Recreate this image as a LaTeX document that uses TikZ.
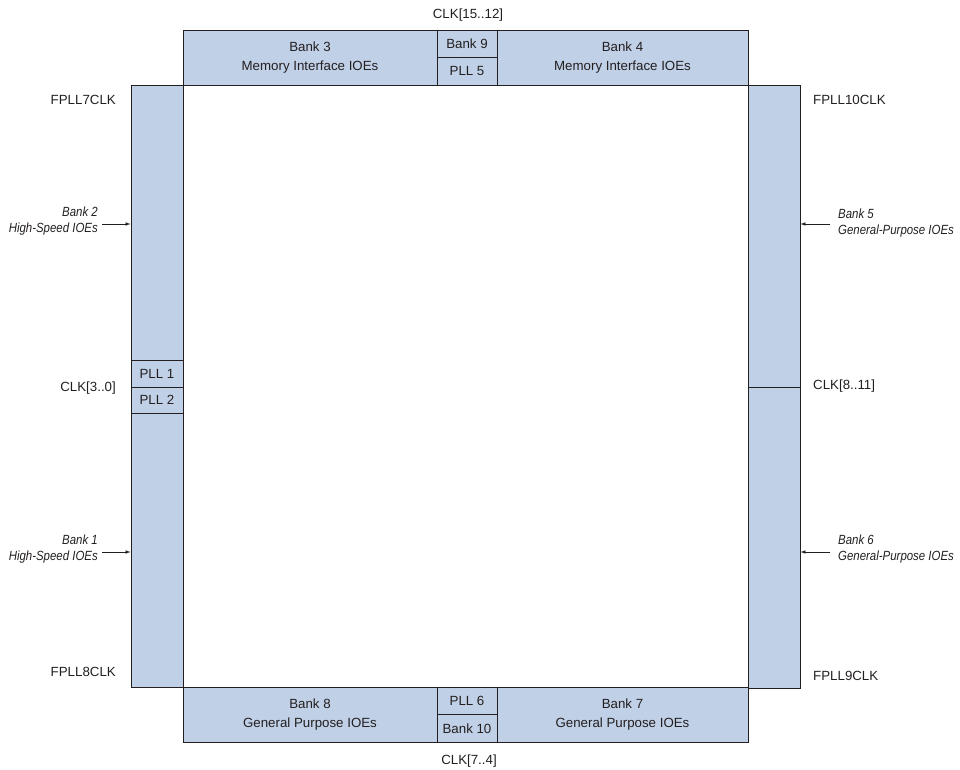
\documentclass[tikz,border=0pt]{standalone}
\usepackage{fontspec}
\setmainfont{Liberation Sans}
\newfontfamily\narrowfont[FakeStretch=0.86]{Liberation Sans}
\usepackage{xcolor}
\usepackage{tikz}
\usetikzlibrary{arrows.meta,positioning}
\definecolor{iofill}{RGB}{192,208,230}
\definecolor{ink}{RGB}{35,31,32}

\begin{document}
\begin{tikzpicture}[
  x=1pt,y=-1pt,
  font=\fontsize{13.3}{18.5}\selectfont,
  text=ink,
  bankbox/.style={draw=ink,line width=0.8pt,fill=iofill,inner sep=0pt,align=center},
  core/.style={draw=ink,line width=0.8pt,fill=white},
  clk/.style={inner sep=0pt},
  side/.style={inner sep=0pt,font=\narrowfont\itshape\fontsize{13.3}{16.5}\selectfont},
  arr/.style={-{Latex[length=5pt,width=3.5pt]},ink,line width=0.6pt}
]
\useasboundingbox (0,0) rectangle (960,770);

% core
\node[core,minimum width=565pt,minimum height=602pt] (die) at (465.5,386) {};

% top row
\node[bankbox,minimum width=254pt,minimum height=55pt] (bank3) at (310,57.5) {Bank 3\\Memory Interface IOEs};
\node[bankbox,minimum width=60pt,minimum height=27pt] (bank9) at (467,43.5) {Bank 9};
\node[bankbox,minimum width=60pt,minimum height=28pt] (pll5) at (467,71) {PLL 5};
\node[bankbox,minimum width=251pt,minimum height=55pt] (bank4) at (622.5,57.5) {Bank 4\\Memory Interface IOEs};
\node[clk] (clktop) at (468,15) {CLK[15..12]};

% bottom row
\node[bankbox,minimum width=254pt,minimum height=55.5pt] (bank8) at (310,714.75) {Bank 8\\General Purpose IOEs};
\node[bankbox,minimum width=60pt,minimum height=27pt] (pll6) at (467,700.5) {PLL 6};
\node[bankbox,minimum width=60pt,minimum height=28.5pt] (bank10) at (467,728.25) {Bank 10};
\node[bankbox,minimum width=251pt,minimum height=55.5pt] (bank7) at (622.5,714.75) {Bank 7\\General Purpose IOEs};
\node[clk] (clkbot) at (469,761) {CLK[7..4]};

% left column
\node[bankbox,minimum width=52pt,minimum height=275pt] (bank2) at (157,222.5) {};
\node[bankbox,minimum width=52pt,minimum height=27pt] (pll1) at (157,373.5) {PLL 1};
\node[bankbox,minimum width=52pt,minimum height=26.5pt] (pll2) at (157,400.25) {PLL 2};
\node[bankbox,minimum width=52pt,minimum height=273.5pt] (bank1) at (157,550.25) {};

% right column
\node[bankbox,minimum width=52pt,minimum height=302pt] (bank5) at (774,236) {};
\node[bankbox,minimum width=52pt,minimum height=301pt] (bank6) at (774,537.5) {};

% clock labels
\node[clk,anchor=east] (fpll7) at (116,100) {FPLL7CLK};
\node[clk,anchor=east] (clkleft) at (116,388) {CLK[3..0]};
\node[clk,anchor=east] (fpll8) at (116,672) {FPLL8CLK};
\node[clk,anchor=west] (fpll10) at (813,100) {FPLL10CLK};
\node[clk,anchor=west] (clkright) at (813,386) {CLK[8..11]};
\node[clk,anchor=west] (fpll9) at (813,676) {FPLL9CLK};

% bank labels
\node[side,align=right,anchor=east] (lab2) at (98,221) {Bank 2\\High-Speed IOEs};
\node[side,align=right,anchor=east] (lab1) at (98,549) {Bank 1\\High-Speed IOEs};
\node[side,align=left,anchor=west] (lab5) at (838,223) {Bank 5\\General-Purpose IOEs};
\node[side,align=left,anchor=west] (lab6) at (838,549) {Bank 6\\General-Purpose IOEs};

\draw[arr] ([xshift=4pt,yshift=-3pt]lab2.east) -- ([yshift=-3pt]lab2.east -| bank2.west);
\draw[arr] ([xshift=4pt,yshift=-3pt]lab1.east) -- ([yshift=-3pt]lab1.east -| bank1.west);
\draw[arr] ([xshift=-8pt,yshift=-1pt]lab5.west) -- ([yshift=-1pt]lab5.west -| bank5.east);
\draw[arr] ([xshift=-8pt,yshift=-3pt]lab6.west) -- ([yshift=-3pt]lab6.west -| bank6.east);
\end{tikzpicture}
\end{document}
